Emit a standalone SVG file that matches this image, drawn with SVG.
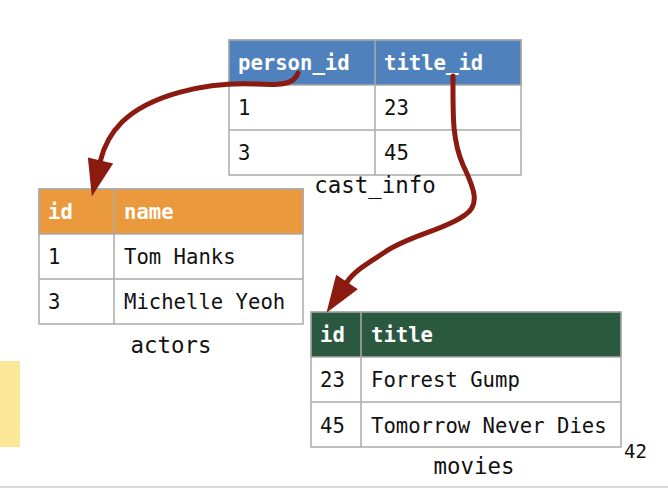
<svg xmlns="http://www.w3.org/2000/svg" width="668" height="488" viewBox="0 0 668 488">
<style>
  text { font-family: "DejaVu Sans Mono", "Liberation Mono", monospace; font-size: 20.6px; fill: #111; }
  .hd { font-weight: bold; fill: #ffffff; }
  .cap { font-size: 22.4px; text-anchor: middle; }
  .cell { fill: #ffffff; stroke: #aaaaaa; stroke-width: 1.5; }
  .grid { stroke: #aaaaaa; stroke-width: 1.5; fill: none; }
  .conn { fill: none; stroke: #8b1a10; stroke-width: 5; stroke-linecap: round; }
</style>
<defs>
  <marker id="ah" markerUnits="userSpaceOnUse" markerWidth="40" markerHeight="30" refX="0" refY="0" viewBox="0 -15 40 30" orient="auto" overflow="visible">
    <path d="M0,-13 L37,0 L0,13 Z" fill="#8b1a10"/>
  </marker>
</defs>
<rect width="668" height="488" fill="#ffffff"/>
<rect x="0" y="361" width="20" height="86" fill="#fce697"/>
<line x1="0" y1="487" x2="668" y2="487" stroke="#cccccc" stroke-width="1.5"/>

<g id="cast_info">
  <rect class="cell" x="229" y="40" width="292" height="135"/>
  <rect x="229" y="40" width="292" height="45" fill="#4f81bd" stroke="#aaaaaa" stroke-width="1.5"/>
  <path class="grid" d="M375,40 V175 M229,130 H521"/>
  <text class="hd" x="238" y="70">person_id</text>
  <text class="hd" x="384" y="70">title_id</text>
  <text x="238" y="115">1</text>
  <text x="384" y="115">23</text>
  <text x="238" y="160">3</text>
  <text x="384" y="160">45</text>
  <text class="cap" x="375" y="193">cast_info</text>
</g>

<g id="actors">
  <rect class="cell" x="39" y="189" width="264" height="135"/>
  <rect x="39" y="189" width="264" height="45" fill="#ea9a3c" stroke="#aaaaaa" stroke-width="1.5"/>
  <path class="grid" d="M114,189 V324 M39,279 H303"/>
  <text class="hd" x="48" y="219">id</text>
  <text class="hd" x="124" y="219">name</text>
  <text x="48" y="264">1</text>
  <text x="124" y="264">Tom Hanks</text>
  <text x="48" y="309">3</text>
  <text x="124" y="309">Michelle Yeoh</text>
  <text class="cap" x="171" y="353">actors</text>
</g>

<g id="movies">
  <rect class="cell" x="311" y="312" width="310" height="135"/>
  <rect x="311" y="312" width="310" height="45" fill="#2a5940" stroke="#aaaaaa" stroke-width="1.5"/>
  <path class="grid" d="M361,312 V447 M311,402 H621"/>
  <text class="hd" x="320" y="342">id</text>
  <text class="hd" x="371" y="342">title</text>
  <text x="320" y="387">23</text>
  <text x="371" y="387">Forrest Gump</text>
  <text x="320" y="433">45</text>
  <text x="371" y="433">Tomorrow Never Dies</text>
  <text class="cap" x="474" y="474">movies</text>
</g>

<text x="624" y="458" style="font-size:19px">42</text>

<g id="connectors">
  <path class="conn" marker-end="url(#ah)" d="M298,73 C294,86 276,85 255,84 C205,82 150,95 122,122 C112,132 104,146 100.5,160.5"/>
  <path class="conn" marker-end="url(#ah)" d="M453,76 C453,115 452,140 463,165 C475,190 480,205 465,215 C445,230 410,235 385,252 C370,262 355,270 347,282"/>
</g>
</svg>
